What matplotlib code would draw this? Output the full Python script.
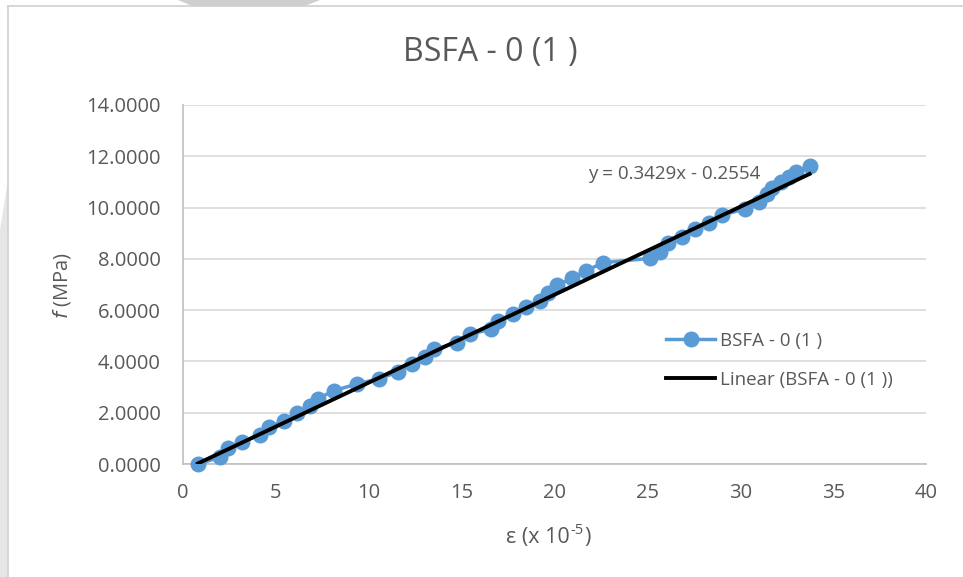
import matplotlib
matplotlib.use("Agg")
import matplotlib.pyplot as plt
from matplotlib.patches import Polygon

# Strain (x 10^-5) and stress f (MPa) for specimen BSFA - 0 (1)
strain = [0.80, 1.99, 2.44, 3.16, 4.15, 4.65, 5.44, 6.15, 6.84, 7.27,
          8.13, 9.35, 10.57, 11.59, 12.31, 13.03, 13.51, 14.73, 15.45, 16.57,
          16.97, 17.75, 18.47, 19.22, 19.67, 20.15, 20.93, 21.70, 22.63, 25.14,
          25.68, 26.13, 26.85, 27.59, 28.32, 29.04, 30.26, 31.00, 31.44, 31.71,
          32.19, 32.62, 32.99, 33.73]
stress = [0.00, 0.26, 0.61, 0.87, 1.13, 1.43, 1.69, 2.00, 2.26, 2.55,
          2.86, 3.12, 3.33, 3.59, 3.90, 4.16, 4.47, 4.73, 5.07, 5.25,
          5.59, 5.85, 6.11, 6.37, 6.68, 6.98, 7.24, 7.54, 7.85, 8.02,
          8.28, 8.61, 8.87, 9.15, 9.41, 9.71, 9.95, 10.23, 10.53, 10.78,
          11.00, 11.19, 11.39, 11.62]

# Linear trendline coefficients
slope = 0.3429
intercept = -0.2554

x_ticks = [0, 5, 10, 15, 20, 25, 30, 35, 40]
y_ticks = [0, 2, 4, 6, 8, 10, 12, 14]

series_name = "BSFA - 0 (1 )"
trend_name = "Linear (BSFA - 0 (1 ))"

plt.rcParams['font.family'] = ['Open Sans', 'DejaVu Sans']
text_col = "#595959"
blue = "#5B9BD5"

W, H = 963, 577
fig = plt.figure(figsize=(W / 100, H / 100), dpi=100)
fig.patch.set_facecolor("white")


def fx(px):
    return px / W


def fy(py):
    return 1 - py / H


# Chart frame and faint background shapes
fig.add_artist(Polygon([[fx(178), fy(0)], [fx(320), fy(0)], [fx(305), fy(6)], [fx(192), fy(6)]],
                       closed=True, transform=fig.transFigure, facecolor="#cfcfcf",
                       edgecolor="none", zorder=0))
fig.add_artist(Polygon([[fx(0), fy(577)], [fx(8), fy(577)], [fx(8), fy(180)], [fx(0), fy(230)]],
                       closed=True, transform=fig.transFigure, facecolor="#e6e6e6",
                       edgecolor="none", zorder=0))
fig.add_artist(plt.Line2D([fx(8), fx(8)], [0, fy(6)], transform=fig.transFigure,
                          color="#d0d0d0", lw=1.2, zorder=1))
fig.add_artist(plt.Line2D([fx(8), 1], [fy(6), fy(6)], transform=fig.transFigure,
                          color="#d0d0d0", lw=1.2, zorder=1))

left, right, top, bottom = 183, 926, 105, 464
ax = fig.add_axes([fx(left), fy(bottom), (right - left) / W, (bottom - top) / H])
ax.set_xlim(0, 40)
ax.set_ylim(0, 14)
ax.set_xticks(x_ticks)
ax.set_yticks(y_ticks)
ax.set_yticklabels([f"{v:.4f}" for v in y_ticks])
ax.grid(axis="y", color="#d9d9d9", lw=1.2)
ax.set_axisbelow(True)
for s in ["top", "right"]:
    ax.spines[s].set_visible(False)
for s in ["left", "bottom"]:
    ax.spines[s].set_color("#bfbfbf")
    ax.spines[s].set_linewidth(1.2)
ax.tick_params(length=0, labelsize=14.5, colors=text_col)
ax.tick_params(axis="x", pad=14)
ax.tick_params(axis="y", pad=16)

ax.plot(strain, stress, color=blue, lw=2.5, marker="o", markersize=11.5,
        markeredgewidth=0, label=series_name, zorder=3, clip_on=False)
tx = [strain[0], strain[-1]]
ty = [slope * v + intercept for v in tx]
ax.plot(tx, ty, color="black", lw=2.8, label=trend_name, zorder=4)

ax.text(21.8, 11.3, f"y = {slope}x - {abs(intercept)}", fontsize=13.5, color=text_col,
        va="center", ha="left", zorder=2)

fig.text(fx(490), fy(52), series_name, fontsize=23, color=text_col, ha="center", va="center")
fig.text(fx(62), fy(286), "$\\it{f}$ (MPa)", fontsize=14.5, color=text_col,
         ha="center", va="center", rotation=90)

# x-axis title with a raised exponent, laid out piece by piece
renderer = fig.canvas.get_renderer()
x0 = 506
parts = [("ε (x 10", 15.5, 0), ("-5", 10.5, -7), (")", 15.5, 0)]
for txt, size, dy in parts:
    t = fig.text(fx(x0), fy(537 + dy), txt, fontsize=size, color=text_col,
                 ha="left", va="center")
    x0 += t.get_window_extent(renderer).width + 0.5

leg = ax.legend(loc="upper left", bbox_to_anchor=(0.628, 0.415), frameon=False,
                fontsize=13.5, handlelength=2.6, labelspacing=1.1, handletextpad=0.25)
for t in leg.get_texts():
    t.set_color(text_col)

fig.savefig("out.png", dpi=100, facecolor="white")
